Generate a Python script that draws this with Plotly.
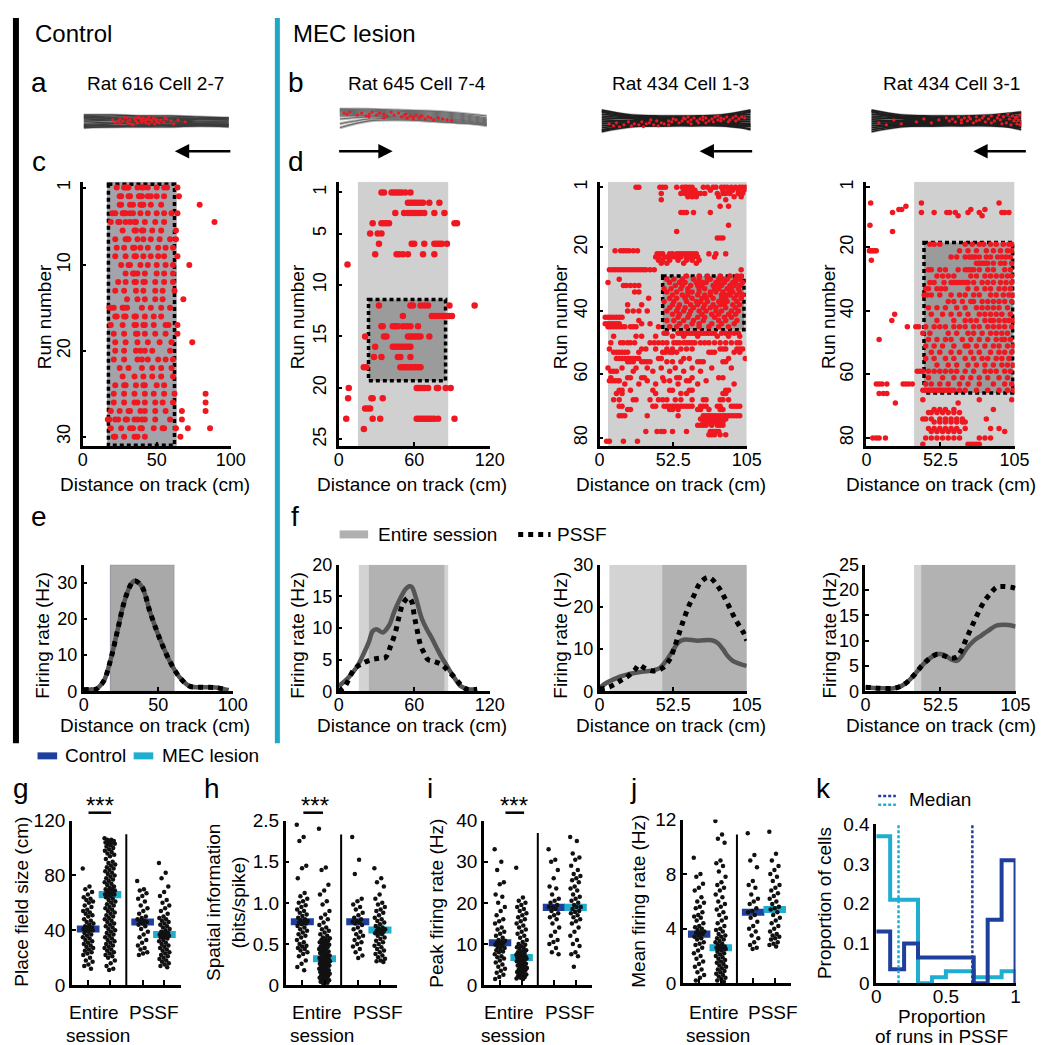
import plotly.graph_objects as go

W, H = 1050, 1045
FONT = "Liberation Sans, Arial, Helvetica, sans-serif"
BLUE = "#1f3f9c"
CYAN = "#1fadd0"
RED = "#f01820"

# ---------------- DATA ----------------
TITLES = ["Rat 616 Cell 2-7", "Rat 645 Cell 7-4", "Rat 434 Cell 1-3", "Rat 434 Cell 3-1"]

# trajectories (y across track, sampled along the track)
TRAJ_X = [0, 0.2, 0.4, 0.6, 0.8, 1.0]
TRAJ_A = [[6, 6, 5, 5, 4, 3], [5, 4, 4, 3, 3, 2], [3, 3, 2, 3, 2, 1], [2, 1, 1, 1, 0, 0],
          [0, 0, -1, 0, -1, -1], [-1, -2, -2, -1, -2, -2], [-3, -3, -3, -2, -3, -3],
          [-4, -5, -4, -4, -4, -4], [-6, -6, -5, -5, -5, -5], [-7, -6, -6, -6, -5, -6],
          [4, 2, 0, -2, -3, -4], [-5, -3, -1, 1, 2, 3]]
TRAJ_B1 = [[12, 11, 10, 9, 7, 3], [11, 10, 9, 8, 6, 2], [10, 9, 8, 7, 5, 1], [9, 8, 7, 6, 4, 0],
           [8, 7, 6, 5, 3, -1], [7, 6, 5, 4, 2, -2], [6, 5, 4, 3, 1, -3], [5, 5, 4, 2, 0, -4],
           [2, 4, 3, 1, -1, -5], [-3, 2, 2, 0, -2, -4], [-7, 0, 1, 0, -2, -3], [12, 12, 11, 10, 8, 5]]
TRAJ_B2 = [[11, 6, 5, 5, 6, 11], [9, 5, 4, 4, 5, 9], [7, 4, 3, 3, 4, 7], [5, 3, 2, 2, 3, 5],
           [3, 2, 1, 1, 2, 3], [1, 0, 0, 0, 1, 1], [-1, -1, -1, -1, 0, -1], [-3, -2, -2, -2, -1, -3],
           [-5, -3, -3, -3, -2, -4], [-7, -4, -4, -4, -3, -5], [-9, -5, -5, -4, -4, -6],
           [-11, -6, -5, -5, -5, -8], [10, 4, 2, 0, -2, -9], [-10, -4, -1, 1, 3, 10]]
TRAJ_B3 = [[11, 6, 5, 5, 6, 9], [9, 5, 4, 4, 5, 8], [7, 4, 3, 3, 4, 6], [5, 3, 2, 2, 3, 4],
           [3, 2, 1, 1, 2, 2], [1, 0, 0, 0, 1, 0], [-1, -1, -1, -1, 0, -2], [-3, -2, -2, -2, -1, -3],
           [-5, -3, -3, -3, -2, -4], [-7, -4, -4, -4, -3, -5], [-9, -5, -5, -4, -4, -6],
           [-11, -6, -5, -5, -5, -7], [10, 3, 1, -1, -3, -9]]
SPK_A = [(0.2, 1), (0.22, -2), (0.25, 2), (0.27, 0), (0.3, -1), (0.3, 3), (0.32, 1), (0.33, -3),
         (0.35, 2), (0.36, 0), (0.37, -2), (0.38, 4), (0.4, 1), (0.4, -1), (0.41, 3), (0.42, 0),
         (0.43, -2), (0.44, 2), (0.45, -3), (0.46, 1), (0.47, -1), (0.48, 3), (0.5, 0), (0.5, 2),
         (0.52, -2), (0.53, 1), (0.55, -1), (0.57, 2), (0.6, 0), (0.62, -3), (0.65, 1), (0.7, -1),
         (0.25, -3), (0.28, 3), (0.34, -4), (0.39, 2), (0.45, 4), (0.49, -3), (0.56, 3), (0.24, 0),
         (0.31, -2), (0.43, 1), (0.51, -1), (0.36, 3)]
SPK_B1 = [(0.03, 8), (0.05, 7), (0.07, 9), (0.12, 6), (0.15, 8), (0.18, 5), (0.2, 7), (0.22, 9),
          (0.25, 6), (0.27, 8), (0.3, 7), (0.32, 5), (0.35, 9), (0.37, 6), (0.4, 8), (0.42, 4),
          (0.44, 6), (0.46, 3), (0.48, 5), (0.5, 4), (0.52, 6), (0.54, 3), (0.56, 5), (0.58, 2),
          (0.6, 4), (0.62, 3), (0.64, 1), (0.67, 3), (0.7, 2), (0.73, 1), (0.76, 0), (0.2, 4),
          (0.3, 3), (0.45, 7), (0.5, 2), (0.55, 5)]
SPK_B2 = [(0.05, -3), (0.08, -5), (0.1, -2), (0.12, -6), (0.15, -4), (0.18, -1), (0.2, -5),
          (0.22, -3), (0.25, -4), (0.27, -1), (0.3, -3), (0.32, -2), (0.35, -4), (0.37, 0),
          (0.4, -2), (0.42, -3), (0.45, 0), (0.47, -1), (0.5, 1), (0.52, -2), (0.54, 0),
          (0.56, 2), (0.58, -1), (0.6, 1), (0.62, 3), (0.64, 0), (0.66, 2), (0.68, 1), (0.7, 3),
          (0.72, 0), (0.74, 2), (0.76, 4), (0.78, 1), (0.8, 3), (0.82, 2), (0.84, 4), (0.86, 1),
          (0.88, 3), (0.9, 5), (0.92, 2), (0.94, 4), (0.96, 3), (0.65, -2), (0.75, -1),
          (0.85, -1), (0.55, 3), (0.45, -4), (0.33, 1), (0.6, -3), (0.7, -2), (0.8, 0),
          (0.9, 0), (0.28, -6), (0.38, -5), (0.48, 2), (0.58, 4), (0.68, 4), (0.78, 5)]
SPK_B3 = [(0.05, -2), (0.1, -4), (0.15, 1), (0.2, -3), (0.3, -1), (0.35, 2), (0.4, -2),
          (0.45, 1), (0.5, 3), (0.52, 0), (0.54, 2), (0.56, -1), (0.58, 4), (0.6, 1), (0.62, 3),
          (0.64, 0), (0.66, 2), (0.68, -2), (0.7, 4), (0.72, 1), (0.74, 3), (0.76, -1),
          (0.78, 2), (0.8, 5), (0.82, 0), (0.84, 3), (0.86, 1), (0.88, 4), (0.9, -2), (0.92, 2),
          (0.94, 5), (0.95, 0), (0.96, 3), (0.97, -3), (0.98, 1), (0.99, 6), (1.0, -1),
          (0.93, -4), (0.87, -3), (0.75, 5), (0.65, 4), (0.85, 6), (0.91, 7), (0.97, 4),
          (0.99, -4), (0.6, -2), (0.7, 0), (0.8, -2)]

# raster spikes: control cell (one list per run, cm)
C_SPIKES = [
    [23, 28, 29, 30, 31, 37, 40, 41, 44, 50, 55, 57, 64],
    [25, 26, 31, 32, 38, 39, 40, 44, 46, 50, 55, 65],
    [25, 26, 32, 34, 39, 40, 41, 46, 53, 79],
    [20, 22, 27, 28, 29, 32, 34, 39, 44, 50, 55, 60, 64],
    [19, 24, 25, 29, 32, 35, 36, 42, 49, 55, 89],
    [27, 35, 36, 40, 41, 47, 53, 63],
    [22, 29, 30, 31, 37, 41, 46, 52, 59, 63],
    [23, 28, 34, 35, 39, 44, 51, 56, 61],
    [22, 29, 35, 36, 41, 46, 51, 55, 64],
    [26, 31, 32, 39, 44, 50, 56, 61, 72],
    [29, 34, 35, 37, 42, 50, 55, 61],
    [24, 29, 35, 36, 41, 42, 49, 55, 61],
    [22, 28, 36, 41, 49, 54, 62],
    [30, 37, 42, 49, 54, 68],
    [18, 19, 21, 27, 28, 30, 40, 46, 53, 59],
    [22, 23, 28, 29, 35, 36, 42, 48, 53],
    [19, 27, 35, 36, 41, 42, 48, 56, 58, 64],
    [21, 28, 36, 37, 42, 49, 56, 64],
    [22, 29, 37, 44, 52, 60, 74],
    [22, 28, 36, 39, 42, 47, 59],
    [21, 28, 37, 40, 44, 51, 56, 61],
    [25, 31, 40, 47, 53, 60],
    [27, 35, 41, 47, 53, 61],
    [22, 28, 29, 36, 41, 42, 50, 55],
    [21, 28, 35, 42, 48, 55, 62, 83],
    [21, 28, 35, 37, 42, 49, 54, 61, 83],
    [19, 25, 31, 32, 39, 42, 49, 56, 67, 83],
    [17, 18, 22, 24, 29, 30, 35, 37, 40, 42, 49, 59, 67],
    [19, 26, 32, 34, 39, 40, 48, 54, 55, 63, 71, 86],
    [21, 22, 28, 35, 37, 42, 66],
]
D_SPIKES = [
    (1, [34, 36, 42, 44, 46, 48, 50, 53, 57]),
    (2, [55, 57, 59, 61, 63, 65, 67, 72, 80]),
    (3, [45, 52, 55, 57, 59, 61, 63, 65, 68, 76, 84]),
    (4, [27, 34, 36, 38, 40, 92, 94]),
    (5, [25, 31, 34]),
    (6, [32, 58, 60, 68, 76, 78, 80, 82, 86]),
    (7, [29, 46, 48, 51, 55, 67, 76]),
    (8, [7]),
    (12, [32, 57, 59, 65, 68, 71, 88, 108]),
    (13, [51, 74, 76, 78, 80, 82, 84, 86, 88, 90]),
    (14, [34, 35, 43, 45, 47, 51, 54, 57, 63]),
    (15, [21, 36, 38, 55, 57, 59, 61, 63, 65, 72]),
    (16, [29, 43, 45, 47, 49, 51, 53, 55, 57]),
    (17, [28, 34, 47, 49, 57]),
    (18, [20, 22, 49, 51, 53, 55, 57, 59, 61, 63, 65]),
    (20, [8, 62, 64, 66, 68, 71, 78, 79, 85, 89]),
    (21, [7.5, 26, 27, 35]),
    (22, [21, 23, 25]),
    (23, [6, 27, 33, 62, 64, 66, 68, 70, 72, 74, 76, 79, 92]),
    (24, [20]),
]
R13_SPIKES = [
    (1, [26, 28, 43, 45, 47, 55, 59, 61, 62, 64, 66, 74, 77, 81, 83, 87, 89, 91, 94, 97, 100, 102, 104]),
    (2, [60, 62, 64, 66, 68, 79, 88, 92, 95, 99, 103]),
    (3, [44, 58, 61, 63, 65, 67, 70, 72, 75, 84, 88, 90, 93, 99, 102]),
    (4, [63, 66, 69, 85, 96, 101]),
    (5, [44, 90]), (7, [86, 92]), (9, [58, 60, 62, 67, 79]), (13, [92]), (15, [55]),
    (17, [84, 86, 88]),
    (21, [11, 15, 17, 19, 21, 24, 27]),
    (22, [41, 43, 45, 50, 52, 55, 57, 59, 61, 63, 65, 67, 69, 78, 83, 90]),
    (23, [40, 42, 46, 48, 51, 54, 56, 58, 62, 64, 67, 70, 82]),
    (24, [42, 45, 50, 56, 62, 66, 71]),
    (25, [44, 48, 60, 69]),
    (27, [7, 9, 11, 13, 15, 17, 19, 21, 23, 25, 27, 29, 31, 33, 36, 39, 101]),
    (29, [62, 71, 77, 86, 93, 98, 101]),
    (30, [14, 48, 53, 59, 67, 71, 77, 79, 85, 88, 91, 97, 100]),
    (31, [6, 50, 57, 61, 69, 73, 76, 83, 85, 89, 95, 97, 102]),
    (32, [17, 19, 22, 25, 28, 54, 59, 65, 70, 73, 81, 84, 87, 93, 96, 100]),
    (33, [46, 51, 58, 63, 71, 75, 82, 85, 91, 94, 99]),
    (34, [25, 28, 48, 55, 63, 66, 71, 79, 83, 88, 93, 95, 100]),
    (35, [52, 59, 63, 70, 75, 79, 87, 90, 93, 98, 102]),
    (36, [35, 50, 55, 61, 66, 73, 76, 81, 87, 90, 96, 101]),
    (37, [46, 53, 62, 69, 72, 77, 85, 88, 91, 98]),
    (38, [20, 30, 52, 57, 65, 70, 75, 81, 86, 89, 95, 100]),
    (39, [50, 56, 61, 67, 74, 79, 83, 90, 97]),
    (40, [20, 24, 28, 34, 48, 55, 60, 65, 71, 76, 83, 87, 94, 99]),
    (41, [52, 57, 64, 73, 80, 85, 92, 97]),
    (42, [4, 6, 8, 10, 12, 14, 16, 56, 63, 70, 75, 82, 89, 94]),
    (43, [28, 48, 53, 60, 67, 74, 85, 90, 98]),
    (44, [4, 6, 8, 10, 12, 14, 30, 36, 57, 66, 71, 80, 87, 96]),
    (45, [6, 8, 10, 12, 14, 16, 18, 22, 24, 26, 42, 50, 55, 62, 71, 78, 85, 92]),
    (47, [46, 48, 56, 58, 60, 62, 64, 66, 68, 70, 72, 74, 76, 78, 80, 82, 87, 90, 93, 96, 99]),
    (48, [10, 26, 30, 40, 52, 60, 70, 84, 92, 100]),
    (50, [8, 15, 17, 20, 22, 25, 36, 39, 42, 45, 48, 53, 55, 57, 60, 62, 64, 66, 68, 72, 75, 78, 82, 86, 90, 94, 98, 100]),
    (52, [7, 30, 33, 40, 48, 52, 58, 62, 66, 86, 88, 90, 98, 100, 102]),
    (53, [10, 12, 14, 16, 18, 20, 28, 45, 47, 50, 52, 55, 78, 80, 82, 96, 100]),
    (55, [12, 14, 16, 18, 20, 22, 24, 26, 28, 42, 44, 60, 64, 92, 104]),
    (56, [20, 22, 24, 30, 32, 34, 36, 48, 52, 58, 70, 72, 74, 88, 90]),
    (58, [6, 16, 26, 34, 44, 54, 66, 80, 94]),
    (59, [8, 10, 12, 24, 38, 50, 60, 72]),
    (61, [8, 20, 22, 30, 32, 45, 55, 57, 66, 85, 88]),
    (62, [7, 9, 11, 13, 14, 34, 46, 50, 62, 64, 76]),
    (63, [18, 28, 40, 56, 70, 96]),
    (65, [14, 16, 22, 38, 50, 52, 64, 66, 90, 92]),
    (66, [12, 16, 40, 58, 62, 88, 90]),
    (68, [10, 14, 24, 26, 36, 42, 45, 48, 54, 58, 66, 74, 76, 86, 88, 92]),
    (70, [14, 16, 38, 40, 46, 48, 50, 52, 54, 56, 58, 60, 62, 64, 66, 72, 74, 76, 84, 86, 94, 96, 98, 100]),
    (71, [20, 22, 50, 52, 56, 70, 72, 78, 86, 88]),
    (73, [14, 16, 18, 34, 56, 74, 76, 78, 80, 82, 84, 86, 88, 90, 92, 94, 96, 98, 100]),
    (74, [72, 74, 76, 78, 80, 82, 84, 86, 88, 90]),
    (75, [74, 76, 78, 80, 82, 84, 86, 88]),
    (76, [70, 72, 74, 76, 80, 84, 86, 88]),
    (78, [33, 41, 44, 46, 52, 62, 79, 81, 83, 85]),
    (79, [78, 80, 82, 86, 90]),
    (81, [5, 7, 17, 27]),
]
R31_SPIKES = [
    (6, [3, 39, 94]), (7, [28]), (8, [23, 25, 74, 84]), (9, [18.5, 39, 48, 57, 59, 63, 72, 80, 96, 98, 101]),
    (10, [65, 82]), (13, [2.5]), (15, [18.5]),
    (19, [45, 48, 52, 70, 75, 80, 83, 88, 92, 97, 101, 103]),
    (21, [2, 3, 4, 5, 6, 7, 66, 72, 78, 85, 90, 95, 100, 103]),
    (23, [60, 64, 70, 73, 75, 77, 80, 85, 88, 93, 96, 99, 102]),
    (24, [3.5]),
    (25, [78, 80, 82, 84, 86, 90, 95, 98, 103]),
    (27, [44, 46, 52, 56, 65, 70, 72, 74, 76, 80, 86, 90, 98, 102]),
    (29, [50, 54, 58, 62, 74, 78, 84, 88, 92, 96, 100, 103]),
    (31, [45, 48, 55, 60, 62, 64, 66, 68, 70, 72, 76, 82, 86, 90, 95, 99, 103]),
    (33, [42, 44, 50, 53, 56, 72, 78, 84, 88, 94, 98, 102]),
    (35, [41, 43, 46, 52, 60, 66, 70, 76, 80, 88, 92, 97, 101, 104]),
    (37, [58, 62, 68, 74, 76, 82, 86, 90, 94, 98, 103]),
    (39, [44, 50, 56, 64, 70, 78, 82, 86, 90, 94, 100]),
    (41, [20, 46, 54, 60, 66, 72, 80, 84, 88, 92, 96, 102]),
    (43, [18, 50, 62, 70, 74, 78, 84, 88, 90, 94, 98, 101, 104]),
    (45, [29, 35, 37, 42, 48, 52, 56, 62, 66, 70, 76, 80, 86, 90, 94, 98, 103]),
    (47, [40, 45, 58, 64, 72, 76, 82, 88, 92, 96, 100]),
    (49, [9, 44, 50, 56, 60, 68, 74, 80, 86, 92, 96, 98, 102]),
    (51, [42, 48, 54, 62, 70, 72, 78, 84, 90, 94, 100, 104]),
    (53, [46, 52, 60, 66, 74, 80, 88, 94, 98, 103]),
    (55, [42, 48, 56, 62, 70, 76, 82, 86, 92, 96, 101]),
    (57, [50, 58, 64, 72, 78, 84, 90, 96, 100, 104]),
    (59, [36, 38, 40, 44, 48, 52, 56, 60, 64, 70, 76, 84, 88, 92, 98, 102]),
    (61, [44, 54, 62, 68, 74, 80, 86, 94, 100]),
    (63, [7, 9, 11, 14.5, 26, 28, 30, 32.5, 42, 46, 52, 58, 66, 72, 80, 90, 98, 103]),
    (65, [40, 42, 44, 46, 48, 50, 52, 54, 56, 58, 60, 62, 66, 70, 78, 86, 94, 100, 104]),
    (66, [9, 12, 14.5]),
    (68, [40, 80, 103]), (69, [20.5, 65]),
    (71, [48, 52, 56, 62, 90]), (72, [44, 46, 50, 54, 58, 62, 66]),
    (74, [40, 42, 46, 52, 56, 60, 64, 68, 85]), (75, [48, 52, 56, 60, 64, 68, 70]),
    (77, [44, 48, 52, 56, 60, 64, 70, 88, 94]), (78, [46, 50, 54, 58, 62, 66, 98]),
    (80, [4.5, 7, 9, 13.5, 42, 46, 50, 54, 58, 62, 66, 80, 84, 88]),
    (82, [40, 72, 74, 76, 78, 80]),
]
# field extents: (entire-session x0, x1), PSSF box (x0, x1, run0, run1)
C_FIELD = (16.5, 63.5); C_PSSF = (17.4, 62.0, 0.6, 31.0)
D_FIELD = (15.3, 87.0); D_PSSF = (23.7, 84.9, 11.4, 19.3)
R13_FIELD = (6.0, 105.0); R13_PSSF = (45.0, 103.0, 29.0, 45.9)
R31_FIELD = (33.8, 105.0); R31_PSSF = (40.8, 103.8, 18.4, 65.8)

# firing rate curves
E_X = [0, 5, 8.5, 11, 14, 18.4, 23, 27, 31.6, 34.2, 39, 44.7, 51, 58, 64.5, 71, 79.6, 88.6, 97]
E_ENT = [0.4, 0.5, 0.6, 1.5, 3.2, 9.2, 17.3, 24.4, 29.5, 30.6, 29, 21.7, 14.6, 8.1, 3.8, 1.4, 1.1, 1.0, 0.3]
E_PSSF = [0.4, 0.5, 0.6, 1.5, 3.2, 9.2, 17.3, 24.4, 29.5, 30.6, 29, 21.7, 14.6, 8.1, 3.8, 1.4, 1.1, 1.0, 0.3]
F1_X = [0, 7, 14, 20, 24, 27, 30, 35, 40, 44, 48, 53, 56, 58, 61, 66, 70, 74, 78, 82, 86, 90, 94, 97, 103, 110]
F1_ENT = [0.8, 2, 3.7, 6, 7.8, 9.5, 9.8, 9.3, 10.4, 12.5, 14.3, 16.1, 16.6, 16.5, 15, 11.5, 9.8, 8.4, 6.8, 5.3, 4, 2.7, 1.5, 0.8, 0.3, 0.3]
F1_PX = [0, 5, 12, 18, 26, 32, 37, 41, 45, 48, 51, 55.5, 58, 60, 62, 65, 68, 71, 76, 82, 87, 92, 97, 102, 110]
F1_PSSF = [0, 0.8, 3.4, 4.3, 5, 5.2, 5.3, 7, 9.3, 11.8, 13.8, 14.8, 14.2, 12, 10, 7.3, 6, 5, 4.7, 4.2, 3.2, 2.2, 1, 0.3, 0.3]
F2_X = [0, 5, 10, 15, 20, 30, 39, 43, 47, 52, 56, 60, 70, 80, 84, 88, 91, 95, 100, 105]
F2_ENT = [0.8, 2, 2.8, 3.5, 4, 4.6, 5, 5.5, 7, 9.5, 11.5, 12.2, 12, 12.1, 11.5, 10, 8.5, 7.2, 6.5, 6]
F2_PX = [0, 5, 10, 15, 20, 25, 28, 32, 38, 45, 50, 53, 57, 60, 64, 67, 72, 78, 85, 91, 97, 103, 105]
F2_PSSF = [0.5, 0.8, 1.5, 2.5, 3.5, 5, 6.2, 5.5, 4.8, 5.5, 7.5, 10, 14, 17, 20.5, 22.5, 25.8, 27, 24.6, 21, 17, 13.7, 12]
F3_X = [0, 10, 20, 25, 30, 35, 40, 45, 50, 55, 60, 64, 67, 71, 76, 81, 86, 92, 100, 105]
F3_ENT = [0.8, 0.6, 0.6, 1, 2, 3.5, 5.2, 6.5, 7.3, 7.2, 6.3, 6, 6.8, 8.5, 10, 11, 12, 13, 13.1, 12.8]
F3_PX = [0, 10, 20, 25, 30, 35, 40, 45, 50, 55, 60, 64, 67, 70, 74, 78, 83, 88, 92, 97, 103, 105]
F3_PSSF = [0.8, 0.6, 0.6, 1, 2, 3.5, 5.2, 6.5, 7.3, 7, 6.5, 6.8, 8, 10, 12.5, 15, 17.7, 19.5, 20.6, 20.7, 20.5, 20.3]
E_FIELD = (18, 60.5)
F1_FIELD = (16, 87); F1_PSSFX = (24, 84)
F2_FIELD = (7, 105); F2_PSSFX = (44.7, 105)
F3_FIELD = (34, 105); F3_PSSFX = (39, 105)

# population scatter: control entire, MEC entire, control PSSF, MEC PSSF
G_CE = [85, 72, 70, 68, 66, 64, 63, 62, 61, 60, 58, 57, 55, 54, 53, 52, 51, 50, 48, 47, 46, 45, 44, 43, 42, 42, 41, 41, 40, 40, 39, 38, 37, 36, 35, 34, 33, 32, 31, 30, 29, 28, 27, 26, 25, 24, 23, 22, 20, 18, 17, 15, 14, 12]
G_ME = [107, 106, 106, 105, 105, 104, 104, 103, 103, 102, 101, 100, 99, 98, 97, 96, 95, 94, 92, 90, 89, 88, 87, 86, 85, 84, 83, 82, 81, 80, 79, 78, 77, 76, 75, 74, 73, 72, 71, 70, 70, 69, 69, 68, 68, 67, 67, 66, 66, 66, 66, 65, 64, 63, 62, 61, 60, 59, 58, 57, 56, 55, 54, 53, 52, 51, 50, 49, 48, 47, 46, 45, 44, 43, 42, 41, 40, 39, 38, 37, 36, 35, 34, 33, 32, 31, 30, 29, 28, 27, 26, 25, 24, 23, 22, 21, 20, 18, 16, 14, 12, 11]
G_CP = [76, 70, 69, 67, 65, 63, 61, 58, 56, 54, 52, 50, 49, 48, 47, 46, 46, 45, 44, 43, 41, 39, 37, 35, 33, 31, 29, 27, 26, 24, 23, 22]
G_MP = [89, 82, 78, 72, 68, 65, 62, 60, 58, 56, 54, 52, 50, 49, 48, 47, 46, 45, 44, 43, 42, 41, 40, 39, 38, 38, 37, 37, 36, 36, 35, 35, 34, 33, 32, 31, 30, 29, 28, 27, 26, 25, 24, 23, 22, 21, 20, 19, 18, 17, 16, 15, 14, 13]
H_CE = [2.4, 2.1, 2.0, 1.45, 1.42, 1.3, 1.12, 1.08, 1.05, 1.02, 1.0, 0.97, 0.95, 0.92, 0.9, 0.88, 0.86, 0.84, 0.82, 0.8, 0.79, 0.78, 0.77, 0.76, 0.75, 0.74, 0.72, 0.7, 0.68, 0.66, 0.64, 0.62, 0.6, 0.58, 0.55, 0.52, 0.5, 0.48, 0.47, 0.45, 0.44, 0.42, 0.4, 0.38, 0.35, 0.3, 0.26, 0.22, 0.18]
H_ME = [2.3, 1.43, 1.4, 1.22, 1.15, 1.1, 1.02, 0.98, 0.9, 0.86, 0.82, 0.8, 0.76, 0.73, 0.7, 0.68, 0.66, 0.64, 0.62, 0.6, 0.58, 0.57, 0.56, 0.55, 0.54, 0.53, 0.52, 0.51, 0.5, 0.49, 0.48, 0.47, 0.46, 0.45, 0.44, 0.43, 0.42, 0.41, 0.4, 0.39, 0.38, 0.37, 0.36, 0.35, 0.34, 0.34, 0.33, 0.33, 0.32, 0.32, 0.31, 0.31, 0.3, 0.3, 0.29, 0.29, 0.28, 0.28, 0.27, 0.27, 0.26, 0.25, 0.25, 0.24, 0.23, 0.22, 0.22, 0.21, 0.2, 0.2, 0.19, 0.18, 0.17, 0.16, 0.15, 0.15, 0.14, 0.13, 0.12, 0.11, 0.1, 0.09, 0.08, 0.07, 0.06, 0.05, 0.04, 0.03, 0.02]
H_CP = [2.1, 1.55, 1.35, 1.05, 1.02, 0.98, 0.95, 0.92, 0.88, 0.85, 0.82, 0.8, 0.78, 0.77, 0.76, 0.75, 0.73, 0.7, 0.68, 0.65, 0.62, 0.6, 0.58, 0.55, 0.52, 0.5, 0.47, 0.44, 0.4, 0.36, 0.33]
H_MP = [1.42, 1.3, 1.25, 1.2, 1.1, 1.05, 1.0, 0.98, 0.95, 0.92, 0.9, 0.88, 0.85, 0.82, 0.8, 0.78, 0.76, 0.74, 0.72, 0.7, 0.69, 0.68, 0.67, 0.66, 0.65, 0.64, 0.63, 0.62, 0.6, 0.58, 0.56, 0.54, 0.52, 0.5, 0.48, 0.46, 0.44, 0.42, 0.4, 0.38, 0.36, 0.34, 0.32, 0.3, 0.29, 0.28]
I_CE = [33, 30, 28, 25, 24.5, 22, 21.5, 20, 19, 18, 17, 16, 15.5, 15, 14, 13.5, 13, 12.5, 12, 11.5, 11, 10.8, 10.5, 10.3, 10.3, 10, 9.8, 9.5, 9.2, 9, 8.8, 8.5, 8.2, 8, 7.5, 7, 6.8, 6.5, 6, 5.5, 5, 4.5, 4, 3.5, 3, 2.5, 2, 1.5]
I_ME = [28.5, 21.3, 20.5, 20, 19.5, 19, 18.5, 18, 17.5, 17, 16.5, 16, 15.5, 15, 14.5, 14, 13.5, 13, 12.5, 12, 11.5, 11, 10.5, 10, 9.8, 9.5, 9.2, 9, 8.8, 8.5, 8.2, 8, 7.8, 7.6, 7.4, 7.2, 7, 6.9, 6.8, 6.7, 6.7, 6.6, 6.5, 6.4, 6.3, 6.2, 6, 5.8, 5.6, 5.4, 5.2, 5, 4.8, 4.6, 4.4, 4.2, 4, 3.8, 3.6, 3.4, 3.2, 3, 2.8, 2.6, 2.4, 2.2, 2, 1.8, 1.6, 1.5]
I_CP = [33, 30.5, 30, 28, 26, 24, 23.5, 22, 21, 20.5, 20, 19.5, 19, 19, 18.5, 18, 17.5, 17, 16.5, 16, 15, 14, 13, 12, 11, 10.5, 10, 9, 8, 7.5]
I_MP = [36, 35, 32, 31, 30.5, 29, 28, 27, 26.5, 26, 25.5, 25, 24, 23.5, 23, 22, 21.5, 21, 20.5, 20, 19.5, 19, 19, 18.5, 18, 17.8, 17.5, 17, 16.5, 16, 15.5, 15, 14, 13, 12, 11, 10, 9.5, 8, 7.5, 7, 4.5]
J_CE = [9.2, 8.0, 7.8, 7.3, 7.0, 6.8, 6.3, 6.0, 5.9, 5.6, 5.5, 5.2, 5.0, 4.9, 4.8, 4.6, 4.4, 4.2, 4.1, 4.0, 3.9, 3.8, 3.7, 3.7, 3.6, 3.5, 3.4, 3.3, 3.2, 3.0, 2.9, 2.8, 2.6, 2.4, 2.2, 2.0, 1.8, 1.6, 1.4, 1.2, 1.0, 0.8, 0.6, 0.4, 0.2]
J_ME = [11.9, 10.9, 10.6, 10.3, 9.0, 8.8, 8.6, 8.2, 7.8, 7.4, 7.2, 7.0, 6.8, 6.5, 6.3, 6.0, 5.8, 5.6, 5.4, 5.2, 5.0, 4.8, 4.6, 4.4, 4.2, 4.0, 3.9, 3.8, 3.6, 3.5, 3.4, 3.3, 3.2, 3.1, 3.0, 2.9, 2.8, 2.7, 2.7, 2.6, 2.6, 2.5, 2.5, 2.4, 2.3, 2.2, 2.1, 2.0, 1.9, 1.8, 1.7, 1.6, 1.5, 1.4, 1.3, 1.2, 1.1, 1.0, 0.9, 0.8, 0.7, 0.6, 0.5, 0.4, 0.3, 0.2, 0.1]
J_CP = [11.0, 9.4, 9.0, 8.5, 7.5, 7.2, 7.0, 6.5, 6.2, 6.0, 5.8, 5.5, 5.3, 5.2, 5.0, 4.8, 4.5, 4.2, 4.0, 3.8, 3.5, 3.3, 3.0, 2.8, 2.6, 2.5]
J_MP = [11.1, 9.5, 9.0, 8.6, 8.3, 8.0, 7.8, 7.5, 7.2, 7.0, 6.8, 6.6, 6.4, 6.2, 6.0, 5.8, 5.6, 5.5, 5.4, 5.2, 5.0, 4.8, 4.6, 4.4, 4.2, 4.0, 3.8, 3.6, 3.5, 3.4, 3.3, 3.2, 3.0, 2.9, 2.8, 2.7]
G_MED = [41, 66, 46, 37]
H_MED = [0.77, 0.32, 0.77, 0.67]
I_MED = [10.3, 6.7, 18.9, 18.9]
J_MED = [3.6, 2.6, 5.2, 5.4]

# histogram of proportion of runs in PSSF (bins of 0.1)
K_EDGES = [0, 0.1, 0.2, 0.3, 0.4, 0.5, 0.6, 0.7, 0.8, 0.9, 1.0]
K_CTRL = [0.13, 0.035, 0.1, 0.065, 0.065, 0.065, 0.065, 0.0, 0.16, 0.31]
K_MEC = [0.37, 0.21, 0.21, 0.0, 0.015, 0.03, 0.03, 0.015, 0.015, 0.03]
K_MEDIAN = {"ctrl": 0.69, "mec": 0.16}

# ---------------- FIGURE ----------------
fig = go.Figure()
shapes = []
annots = []
n_ax = [0]

BASE = dict(showline=True, linecolor='black', linewidth=2.5, ticks='inside', ticklen=4, tickwidth=1.5,
            tickcolor='black', showgrid=False, zeroline=False, fixedrange=True,
            tickfont=dict(size=18, family=FONT, color='black'))


def make_axes(xpx, ypx, xrange, yrange, xkw=None, ykw=None, visible=True):
    n_ax[0] += 1
    i = n_ax[0]
    s = '' if i == 1 else str(i)
    xa = dict(BASE)
    ya = dict(BASE)
    xa.update(domain=[xpx[0] / W, xpx[1] / W], range=xrange, anchor='y' + s)
    ya.update(domain=[1 - ypx[1] / H, 1 - ypx[0] / H], range=yrange, anchor='x' + s)
    if xkw:
        xa.update(xkw)
    if ykw:
        ya.update(ykw)
    if not visible:
        xa['visible'] = False
        ya['visible'] = False
    fig.update_layout(**{'xaxis' + s: xa, 'yaxis' + s: ya})
    return 'x' + s, 'y' + s


def txt(x, y, s, size=18, xanchor='center', yanchor='middle', angle=0, color='black'):
    annots.append(dict(x=x / W, y=1 - y / H, xref='paper', yref='paper', text=s, showarrow=False,
                       font=dict(size=size, family=FONT, color=color), xanchor=xanchor,
                       yanchor=yanchor, textangle=angle))


def pline(x0, y0, x1, y1, color, width, dash=None):
    shapes.append(dict(type='line', xref='paper', yref='paper', x0=x0 / W, y0=1 - y0 / H,
                       x1=x1 / W, y1=1 - y1 / H, line=dict(color=color, width=width, dash=dash)))


def drect(xr, yr, x0, x1, y0, y1, fill, lcolor=None, lwidth=0, dash=None):
    shapes.append(dict(type='rect', xref=xr, yref=yr, x0=x0, x1=x1, y0=y0, y1=y1, layer='below',
                       fillcolor=fill, line=dict(color=lcolor or fill, width=lwidth, dash=dash)))


def dbox(xr, yr, x0, x1, y0, y1):
    shapes.append(dict(type='rect', xref=xr, yref=yr, x0=x0, x1=x1, y0=y0, y1=y1, layer='below',
                       fillcolor='rgba(0,0,0,0)', line=dict(color='black', width=3.5, dash='4px,3px')))


# separators and headings
pline(3, 0, 3, 740, 'black', 6)
pline(269.5, 0, 269.5, 740, '#1ea7c6', 5)
txt(20, 16, "Control", size=24, xanchor='left')
txt(283, 16, "MEC lesion", size=24, xanchor='left')
for (lx, ly, lt) in [(27, 66, 'a'), (289, 66, 'b'), (27, 146, 'c'), (289, 146, 'd'),
                     (27, 509, 'e'), (287, 509, 'f'), (8, 786, 'g'), (203, 786, 'h'),
                     (425, 786, 'i'), (633, 786, 'j'), (826, 786, 'k')]:
    txt(lx, ly, lt, size=28)

# ---- trajectories ----
traj_boxes = [(72, 220), (333, 483), (600, 752), (875, 1028)]
traj_sets = [TRAJ_A, TRAJ_B1, TRAJ_B2, TRAJ_B3]
traj_spk = [SPK_A, SPK_B1, SPK_B2, SPK_B3]
traj_col = ['#3c3c3c', '#6a6a6a', '#1e1e1e', '#1e1e1e']
traj_w = [1.4, 1.1, 1.7, 1.7]
title_x = [145, 412, 680, 957]
for k in range(4):
    xr, yr = make_axes(traj_boxes[k], (89, 121), [0, 1], [-16, 16], visible=False)
    xs, ys = [], []
    for path in traj_sets[k]:
        xs += TRAJ_X + [None]
        ys += path + [None]
    fig.add_trace(go.Scatter(x=xs, y=ys, mode='lines', xaxis=xr, yaxis=yr,
                             line=dict(color='#bdbdbd', width=3.0, shape='spline'), hoverinfo='skip'))
    fig.add_trace(go.Scatter(x=xs, y=ys, mode='lines', xaxis=xr, yaxis=yr,
                             line=dict(color=traj_col[k], width=traj_w[k], shape='spline'),
                             hoverinfo='skip'))
    fig.add_trace(go.Scatter(x=[p[0] for p in traj_spk[k]], y=[p[1] for p in traj_spk[k]],
                             mode='markers', xaxis=xr, yaxis=yr,
                             marker=dict(size=3.2, color=RED, line_width=0), hoverinfo='skip'))
    txt(title_x[k], 67, TITLES[k], size=19)

# direction arrows (head x, tail x)
for hx, tx in [(165, 222), (387, 332), (700, 754), (979, 1033)]:
    annots.append(dict(x=hx / W, y=1 - 136 / H, xref='paper', yref='paper', text='',
                       showarrow=True, ax=tx - hx, ay=0, arrowhead=2, arrowsize=1.1,
                       arrowwidth=2.6, arrowcolor='black'))

# ---- rasters ----


def raster(xpx, xrange, xtv, xtt, yrange, ytv, field, pssf, spikes, size, light='#d0d0d0',
           dark='#9b9b9b', single=False):
    xr, yr = make_axes(xpx, (167, 437), xrange, yrange,
                       xkw=dict(tickmode='array', tickvals=xtv, ticktext=xtt, ticklabelstandoff=-5),
                       ykw=dict(tickmode='array', tickvals=ytv, ticktext=[str(v) for v in ytv],
                                tickangle=-90, ticklabelstandoff=3))
    lo, hi = min(yrange), max(yrange)
    if single:
        drect(xr, yr, field[0], field[1], lo, hi, dark)
    else:
        drect(xr, yr, field[0], field[1], lo, hi, light)
        drect(xr, yr, pssf[0], pssf[1], pssf[2], pssf[3], dark)
    dbox(xr, yr, pssf[0], pssf[1], pssf[2], pssf[3])
    xs, ys = [], []
    for run, cms in spikes:
        xs += cms
        ys += [run] * len(cms)
    fig.add_trace(go.Scatter(x=xs, y=ys, mode='markers', xaxis=xr, yaxis=yr,
                             marker=dict(size=size, color=RED, line_width=0), hoverinfo='skip'))
    return xr, yr


c_spk = [(i + 1, row) for i, row in enumerate(C_SPIKES)]
raster((71, 222), [0, 100], [0, 50, 100], ['0', '50', '100'], [31.1, 0.31], [1, 10, 20, 30],
       C_FIELD, C_PSSF, c_spk, 6, dark='#a3a3ab', single=True)
raster((332, 486), [0, 120], [0, 60, 120], ['0', '60', '120'], [25.67, -0.05], [1, 5, 10, 15, 20, 25],
       D_FIELD, D_PSSF, D_SPIKES, 6.5)
raster((598, 748), [0, 105], [0, 52.5, 105], ['0', '52.5', '105'], [82.6, -0.74], [1, 20, 40, 60, 80],
       R13_FIELD, R13_PSSF, R13_SPIKES, 5.5)
raster((870, 1021), [0, 105], [0, 52.5, 105], ['0', '52.5', '105'], [82.6, -0.74], [1, 20, 40, 60, 80],
       R31_FIELD, R31_PSSF, R31_SPIKES, 5.5)
for x in [32, 290, 558, 832]:
    txt(x, 305, "Run number", size=19, angle=-90)
for x in [145, 407, 671, 946]:
    txt(x, 476, "Distance on track (cm)", size=19)

# ---- firing rate panels ----


def rate(xpx, xrange, xtv, xtt, yrange, ytv, curves, field, pssfx, single=False):
    xr, yr = make_axes(xpx, (558, 687), xrange, yrange,
                       xkw=dict(tickmode='array', tickvals=xtv, ticktext=xtt, ticklabelstandoff=-5),
                       ykw=dict(tickmode='array', tickvals=ytv, ticktext=[str(v) for v in ytv]))
    lo, hi = yrange
    if single:
        drect(xr, yr, field[0], field[1], lo, hi, '#a9a9a9', '#9a9aa6', 1.2)
    else:
        drect(xr, yr, field[0], field[1], lo, hi, '#d3d3d3')
        drect(xr, yr, pssfx[0], pssfx[1], lo, hi, '#b2b2b2')
    (x1, y1), (x2, y2) = curves
    fig.add_trace(go.Scatter(x=x1, y=y1, mode='lines', xaxis=xr, yaxis=yr, hoverinfo='skip',
                             line=dict(color='#555555', width=4.5, shape='spline')))
    fig.add_trace(go.Scatter(x=x2, y=y2, mode='lines', xaxis=xr, yaxis=yr, hoverinfo='skip',
                             line=dict(color='black', width=5, dash='5px,5px', shape='spline')))


rate((72, 224), [0, 100], [0, 50, 100], ['0', '50', '100'], [0, 35], [0, 10, 20, 30],
     ((E_X, E_ENT), (E_X, E_PSSF)), E_FIELD, E_FIELD, single=True)
rate((332, 486), [0, 120], [0, 60, 120], ['0', '60', '120'], [0, 20], [0, 5, 10, 15, 20],
     ((F1_X, F1_ENT), (F1_PX, F1_PSSF)), F1_FIELD, F1_PSSFX)
rate((598, 748), [0, 105], [0, 52.5, 105], ['0', '52.5', '105'], [0, 30], [0, 10, 20, 30],
     ((F2_X, F2_ENT), (F2_PX, F2_PSSF)), F2_FIELD, F2_PSSFX)
rate((869, 1022), [0, 105], [0, 52.5, 105], ['0', '52.5', '105'], [0, 25], [0, 5, 10, 15, 20, 25],
     ((F3_X, F3_ENT), (F3_PX, F3_PSSF)), F3_FIELD, F3_PSSFX)
for x in [30, 290, 558, 832]:
    txt(x, 630, "Firing rate (Hz)", size=19, angle=-90)
for x in [145, 407, 671, 946]:
    txt(x, 722, "Distance on track (cm)", size=19)
# legend for f
pline(333, 527, 362, 527, '#b0b0b0', 8)
txt(370, 527, "Entire session", size=19, xanchor='left')
pline(515, 527, 548, 527, 'black', 5, '5px,5px')
txt(553, 527, "PSSF", size=19, xanchor='left')

# ---- population panels ----
POS = [1, 2, 3.5, 4.5]
BAR_COL = [BLUE, CYAN, BLUE, CYAN]
BOT_FONT = dict(size=19, family=FONT, color='black')


def jitter(n):
    return [((k * 0.61803398875) % 1 - 0.5) * 0.5 for k in range(n)]


def popul(xpx, ypx, yrange, ytv, ytt, groups, medians, div_top, transform=None):
    xr, yr = make_axes(xpx, ypx, [0.25, 5.25], yrange,
                       xkw=dict(tickmode='array', tickvals=POS, ticktext=['', '', '', ''], ticklen=5),
                       ykw=dict(tickmode='array', tickvals=ytv, ticktext=ytt, tickfont=BOT_FONT))
    f = transform or (lambda v: v)
    half = 3.6 * (yrange[1] - yrange[0]) / (ypx[1] - ypx[0])
    for p, m, c in zip(POS, medians, BAR_COL):
        drect(xr, yr, p - 0.52, p + 0.52, f(m) - half, f(m) + half, c)
    shapes.append(dict(type='line', xref=xr, yref=yr, x0=2.75, x1=2.75, y0=0, y1=div_top,
                       line=dict(color='black', width=2)))
    for p, vals in zip(POS, groups):
        jx = jitter(len(vals))
        fig.add_trace(go.Scatter(x=[p + j for j in jx], y=[f(v) for v in vals], mode='markers',
                                 xaxis=xr, yaxis=yr, hoverinfo='skip',
                                 marker=dict(size=4.5, color='#111111', line_width=0)))
    return xr, yr


def hbreak(v):
    # broken axis above 1.5 (1.5..2.5 drawn at half scale)
    return v if v <= 1.5 else 1.5 + (v - 1.5) * 0.5


popul((60, 171), (819, 987), [0, 120], [0, 40, 80, 120], ['0', '40', '80', '120'],
      [G_CE, G_ME, G_CP, G_MP], G_MED, 110)
popul((278, 391), (819, 987), [0, 2.0], [0, 0.5, 1.0, 1.5, 2.0], ['0', '0.5', '1.0', '1.5', '2.5'],
      [H_CE, H_ME, H_CP, H_MP], H_MED, 1.83, transform=hbreak)
popul((480, 590), (819, 987), [0, 40], [0, 10, 20, 30, 40], ['0', '10', '20', '30', '40'],
      [I_CE, I_ME, I_CP, I_MP], I_MED, 37)
popul((683, 793), (818, 985), [0, 12], [0, 4, 8, 12], ['0', '4', '8', '12'],
      [J_CE, J_ME, J_CP, J_MP], J_MED, 10.9)

# significance markers
for cx, x0, x1 in [(89, 77, 100), (308, 296, 316), (511, 502, 521)]:
    txt(cx, 804, "***", size=24)
    pline(x0, 811, x1, 811, 'black', 2.5)

txt(9, 902, "Place field size (cm)", size=19, angle=-90)
txt(205, 903, "Spatial information", size=19, angle=-90)
txt(230, 903, "(bits/spike)", size=19, angle=-90)
txt(432, 903, "Peak firing rate (Hz)", size=19, angle=-90)
txt(638, 901, "Mean firing rate (Hz)", size=19, angle=-90)
txt(828, 903, "Proportion of cells", size=19, angle=-90)
for ex, sx, px in [(83, 87, 144), (310, 315, 372), (506, 510, 568), (715, 719, 775)]:
    txt(ex, 1015, "Entire", size=19)
    txt(sx, 1038, "session", size=19)
    txt(px, 1015, "PSSF", size=19)

# legend (bottom)
pline(25, 753, 45, 753, BLUE, 7)
txt(51, 753, "Control", size=19, xanchor='left')
pline(123, 753, 143, 753, CYAN, 7)
txt(150, 753, "MEC lesion", size=19, xanchor='left')

# ---- k: histogram ----
xr, yr = make_axes((880, 1022), (823, 985), [0, 1.0], [0, 0.4],
                   xkw=dict(tickmode='array', tickvals=[0, 0.5, 1], ticktext=['0', '0.5', '1'],
                            tickfont=BOT_FONT, ticks='', ticklabelstandoff=-6),
                   ykw=dict(tickmode='array', tickvals=[0, 0.1, 0.2, 0.3, 0.4],
                            ticktext=['0', '0.1', '0.2', '0.3', '0.4'], tickfont=BOT_FONT, ticks=''))
for vals, col in [(K_MEC, CYAN), (K_CTRL, BLUE)]:
    fig.add_trace(go.Scatter(x=K_EDGES, y=vals + [0], mode='lines', xaxis=xr, yaxis=yr,
                             line=dict(color=col, width=4, shape='hv'), hoverinfo='skip'))
shapes.append(dict(type='line', xref=xr, yref=yr, x0=K_MEDIAN['mec'], x1=K_MEDIAN['mec'], y0=0, y1=0.4,
                   line=dict(color=CYAN, width=2.5, dash='3px,2px')))
shapes.append(dict(type='line', xref=xr, yref=yr, x0=K_MEDIAN['ctrl'], x1=K_MEDIAN['ctrl'], y0=0, y1=0.4,
                   line=dict(color=BLUE, width=2.5, dash='3px,2px')))
pline(882, 794, 900, 794, BLUE, 2.5, '3px,2px')
pline(882, 803, 900, 803, CYAN, 2.5, '3px,2px')
txt(911, 798, "Median", size=19, xanchor='left')
txt(947, 1019, "Proportion", size=19)
txt(947, 1039, "of runs in PSSF", size=19)

fig.update_layout(width=W, height=H, margin=dict(l=0, r=0, t=0, b=0), paper_bgcolor='white',
                  plot_bgcolor='rgba(0,0,0,0)', showlegend=False, shapes=shapes, annotations=annots,
                  font=dict(family=FONT, size=18, color='black'))
fig.write_html("out.html")
